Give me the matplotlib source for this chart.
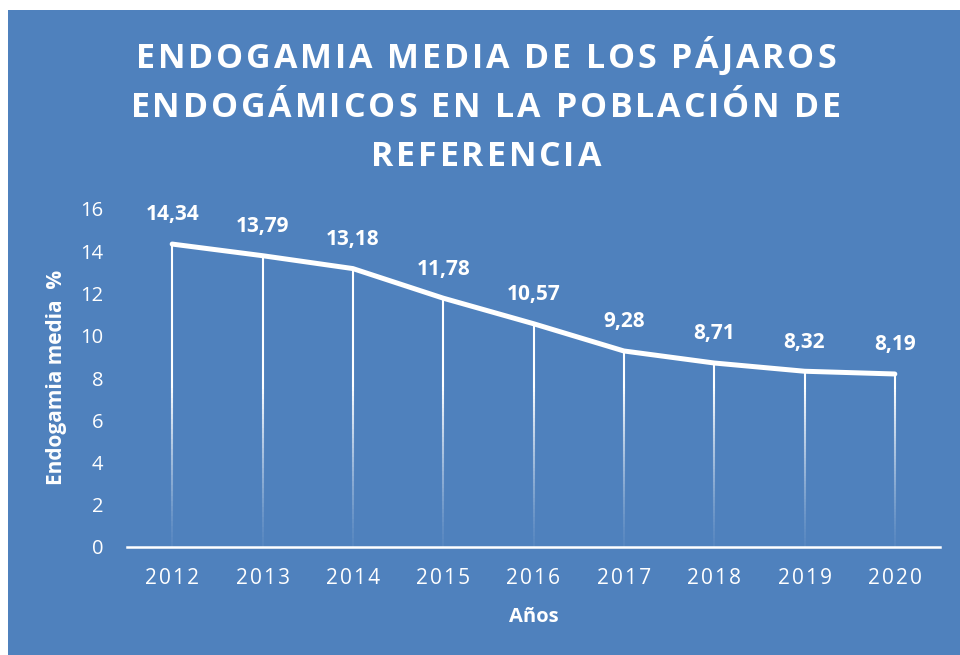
import matplotlib.pyplot as plt
from matplotlib.collections import LineCollection
from matplotlib.patches import Rectangle
from matplotlib.font_manager import FontProperties
import numpy as np

years = ['2012', '2013', '2014', '2015', '2016', '2017', '2018', '2019', '2020']
endogamia = [14.34, 13.79, 13.18, 11.78, 10.57, 9.28, 8.71, 8.32, 8.19]
etiquetas = ['14,34', '13,79', '13,18', '11,78', '10,57', '9,28', '8,71', '8,32', '8,19']
yticks = [0, 2, 4, 6, 8, 10, 12, 14, 16]
titulo = ['ENDOGAMIA MEDIA DE LOS PÁJAROS',
          'ENDOGÁMICOS EN LA POBLACIÓN DE',
          'REFERENCIA']

azul = '#4F81BD'
W, H = 960, 655

fig = plt.figure(figsize=(9.6, 6.55), dpi=100)
fig.patches.append(Rectangle((8/W, 0), 1, 1 - 10/H, transform=fig.transFigure,
                             facecolor=azul, edgecolor='none', zorder=-5))

ax = fig.add_axes([127/W, 1 - 547/H, 813/W, 338/H])
ax.set_facecolor('none')
x = np.arange(len(years))

# drop lines, fading towards the axis
segs = []
cols = []
for xi, yi in zip(x, endogamia):
    ys = np.linspace(0, yi, 60)
    for a, b in zip(ys[:-1], ys[1:]):
        segs.append([(xi, a), (xi, b)])
        cols.append((1, 1, 1, min(1.0, 0.05 + 0.95 * (a / 7.5) ** 1.3)))
ax.add_collection(LineCollection(segs, colors=cols, linewidths=1.5, zorder=2))

ax.plot(x, endogamia, color='white', lw=3.6, solid_capstyle='round',
        solid_joinstyle='round', zorder=3, clip_on=False)

for xi, yi, t in zip(x, endogamia, etiquetas):
    ax.annotate(t, (xi, yi), xytext=(0, 17), textcoords='offset points',
                ha='center', va='baseline', color='white', fontsize=15,
                fontweight='bold', family='Open Sans', annotation_clip=False)

ax.set_xlim(-0.5, len(years) - 0.5)
ax.set_ylim(0, 16)
ax.set_xticks(x)
ax.set_xticklabels(['\u200a'.join(y) for y in years],
                   family=['Open Sans', 'DejaVu Sans'], fontsize=15, color='white')
ax.set_yticks(yticks)
ax.set_yticklabels([str(v) for v in yticks], family='Open Sans', fontsize=14.5, color='white')
ax.tick_params(length=0)
ax.tick_params(axis='x', pad=15)
ax.tick_params(axis='y', pad=17)
for s in ['top', 'right', 'left']:
    ax.spines[s].set_visible(False)
ax.spines['bottom'].set_color('white')
ax.spines['bottom'].set_linewidth(1.8)

ax.set_xlabel('Años', color='white', fontsize=14.5, fontweight='bold',
              family='Open Sans', labelpad=13)
ax.set_ylabel('Endogamia media  %', color='white', fontsize=15, fontweight='bold',
              family='Open Sans')
ax.yaxis.set_label_coords((67 - 127) / 813, 0.5 - (377 - 378) / 338)

# title with letter spacing, drawn char by char
fp = FontProperties(family='Open Sans', weight='bold', size=24.5)
r = fig.canvas.get_renderer()
def ancho(s):
    return r.get_text_width_height_descent(s, fp, ismath=False)[0]
def avances(s):
    base = ancho('HH')
    return [ancho('H' + c + 'H') - base for c in s]

adv0 = avances(titulo[0])
esp = (700 - sum(adv0)) / (len(titulo[0]) - 1)
bases = [68, 117, 166]
for linea, yb in zip(titulo, bases):
    adv = avances(linea)
    total = sum(adv) + esp * (len(linea) - 1)
    xp = 486 - total / 2
    for c, a in zip(linea, adv):
        fig.text(xp / W, 1 - yb / H, c, fontproperties=fp, color='white',
                 ha='left', va='baseline')
        xp += a + esp

fig.savefig('out.png', dpi=100)
